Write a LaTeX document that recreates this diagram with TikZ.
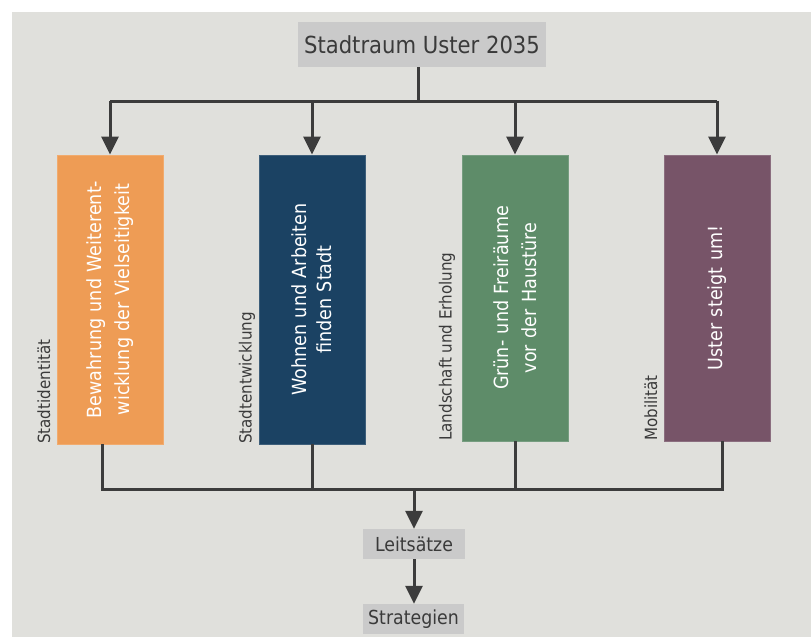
\documentclass[tikz,border=0pt]{standalone}
\usepackage{fontspec}
\setmainfont{DejaVu Sans Condensed}
\usetikzlibrary{arrows.meta}
\definecolor{bgc}{HTML}{E0E0DC}
\definecolor{hdr}{HTML}{CACACA}
\definecolor{lnc}{HTML}{3C3C3C}
\definecolor{txc}{HTML}{3A3A3A}
\definecolor{corange}{HTML}{EE9C55}
\definecolor{cblue}{HTML}{1B4263}
\definecolor{cgreen}{HTML}{5E8C69}
\definecolor{cpurple}{HTML}{775468}
\tikzset{
  hdrbox/.style={fill=hdr, inner sep=0pt, text=txc, font=\fontsize{#1}{#1}\selectfont},
  colbox/.style={fill=#1, draw=#1!85!white, line width=0.8pt, inner sep=0pt, minimum width=106pt, text=white, rotate=90, align=center},
  sidelbl/.style={rotate=90, anchor=base west, inner sep=0pt, text=txc, font=\fontsize{16.8}{18}\selectfont},
  conn/.style={draw=lnc, line width=3pt, line join=miter},
  arr/.style={conn, -{Triangle[length=18pt,width=17pt]}, shorten >=0pt},
}
\begin{document}
\begin{tikzpicture}[x=1pt,y=-1pt]
\useasboundingbox (0,0) rectangle (811,637);
\fill[bgc] (12,12) rectangle (811,637);

\node[hdrbox=23.5, minimum width=248pt, minimum height=45pt] (title) at (422,44.5) {Stadtraum Uster 2035};

\node[colbox=corange, minimum height=106pt, text width=289pt, minimum width=289pt, font=\fontsize{19.5}{28}\selectfont] (b1) at (110,299.5) {Bewahrung und Weiterent-\\wicklung der Vielseitigkeit};
\node[colbox=cblue, minimum height=106pt, text width=289pt, minimum width=289pt, font=\fontsize{19.5}{25}\selectfont] (b2) at (312,299.5) {Wohnen und Arbeiten\\finden Stadt};
\node[colbox=cgreen, minimum height=106pt, text width=286pt, minimum width=286pt, font=\fontsize{19.5}{28}\selectfont] (b3) at (515,298) {Grün- und Freiräume\\vor der Haustüre};
\node[colbox=cpurple, minimum height=106pt, text width=286pt, minimum width=286pt, font=\fontsize{19.5}{28}\selectfont] (b4) at (717,298) {Uster steigt um!};

\node[sidelbl] (l1) at (50,444) {Stadtidentität};
\node[sidelbl] (l2) at (251.5,444) {Stadtentwicklung};
\node[sidelbl] (l3) at (451.5,441) {Landschaft und Erholung};
\node[sidelbl] (l4) at (657,441) {Mobilität};

\node[hdrbox=19.3, minimum width=102pt, minimum height=30pt] (leit) at (414,544) {Leitsätze};
\node[hdrbox=19.3, minimum width=101pt, minimum height=30pt] (strat) at (413.5,619) {Strategien};

\coordinate (top) at (418,101);
\coordinate (bot) at (414,489);

\draw[conn] (title.south -| top) -- (top);
\draw[conn] (b1.east |- top) -- (b4.east |- top);
\draw[arr] (b1.east |- top) -- (b1.east);
\draw[arr] (b2.east |- top) -- (b2.east);
\draw[arr] (b3.east |- top) -- (b3.east);
\draw[arr] (b4.east |- top) -- (b4.east);

\draw[conn] ([xshift=-8pt]b1.west) |- (bot) -| ([xshift=5pt]b4.west);
\draw[conn] (b2.west) -- (b2.west |- bot);
\draw[conn] (b3.west) -- (b3.west |- bot);
\draw[arr] (bot) -- (leit.north);
\draw[arr] (leit.south) -- (leit.south |- strat.north);
\end{tikzpicture}
\end{document}
